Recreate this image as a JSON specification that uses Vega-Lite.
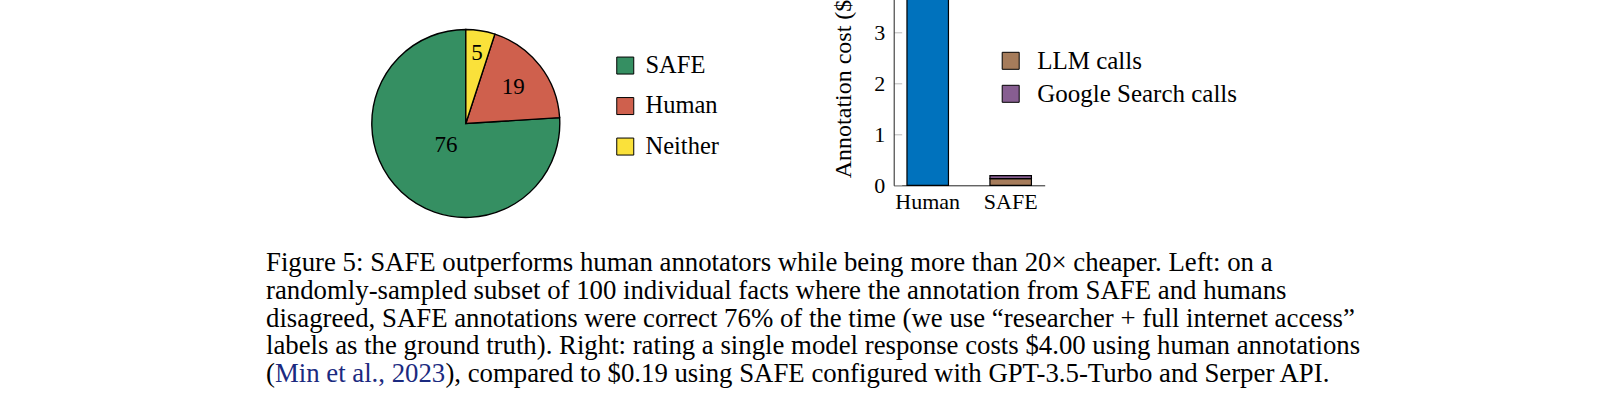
{
  "$schema": "https://vega.github.io/schema/vega-lite/v6.json",
  "description": "SAFE vs human annotators: pie of who was right, and annotation cost per response.",
  "background": "white",
  "padding": {"left": 260, "top": -19.7, "right": 10, "bottom": 10},
  "config": {
    "font": "Liberation Serif",
    "view": {"stroke": null},
    "axis": {"labelColor": "black", "titleColor": "black", "domainColor": "#222", "labelFont": "Liberation Serif", "titleFont": "Liberation Serif"},
    "legend": {"labelColor": "black", "labelFont": "Liberation Serif", "padding": 0, "labelLimit": 400}
  },
  "bounds": "flush",
  "spacing": 275.8,
  "vconcat": [
    {
      "bounds": "flush",
      "spacing": 221.7,
      "resolve": {"scale": {"color": "independent"}, "legend": {"color": "independent"}},
      "hconcat": [
        {
          "width": 411.6,
          "height": 204,
          "data": {
            "values": [
              {"label": "SAFE", "share": 76},
              {"label": "Human", "share": 19},
              {"label": "Neither", "share": 5}
            ]
          },
          "encoding": {
            "theta": {"field": "share", "type": "quantitative", "stack": true},
            "order": {"field": "share", "type": "quantitative", "sort": "ascending"}
          },
          "layer": [
            {
              "mark": {"type": "arc", "outerRadius": 94, "stroke": "black", "strokeWidth": 1.4, "yOffset": 40.2},
              "encoding": {
                "color": {
                  "field": "label",
                  "type": "nominal",
                  "scale": {"domain": ["SAFE", "Human", "Neither"], "range": ["#358F62", "#CF604D", "#FAE13A"]},
                  "legend": {
                    "title": null,
                    "orient": "none",
                    "legendX": 353,
                    "legendY": 72,
                    "symbolType": "square",
                    "symbolSize": 289,
                    "symbolStrokeColor": "black",
                    "symbolStrokeWidth": 1,
                    "symbolOpacity": 1,
                    "labelFontSize": 24.5,
                    "labelOffset": 8,
                    "rowPadding": 15.5
                  }
                }
              }
            },
            {
              "mark": {"type": "text", "radius": 71, "yOffset": 40.2, "fontSize": 23, "color": "black"},
              "encoding": {"text": {"condition": {"test": "datum.label === 'Neither'", "field": "share", "type": "quantitative"}, "value": ""}}
            },
            {
              "mark": {"type": "text", "radius": 60, "yOffset": 40.2, "fontSize": 23, "color": "black"},
              "encoding": {"text": {"condition": {"test": "datum.label === 'Human'", "field": "share", "type": "quantitative"}, "value": ""}}
            },
            {
              "mark": {"type": "text", "radius": 29, "yOffset": 40.2, "fontSize": 23, "color": "black"},
              "encoding": {"text": {"condition": {"test": "datum.label === 'SAFE'", "field": "share", "type": "quantitative"}, "value": ""}}
            }
          ]
        },
        {
          "width": 151,
          "height": 204,
          "data": {
            "values": [
              {"method": "Human", "part": "Human annotation", "cost": 4.0},
              {"method": "SAFE", "part": "LLM calls", "cost": 0.13},
              {"method": "SAFE", "part": "Google Search calls", "cost": 0.06}
            ]
          },
          "mark": {"type": "bar", "stroke": "black", "strokeWidth": 1.2},
          "encoding": {
            "x": {
              "field": "method",
              "type": "nominal",
              "sort": ["Human", "SAFE"],
              "scale": {"paddingInner": 0.5, "paddingOuter": 0.16},
              "axis": {"title": null, "labelAngle": 0, "ticks": false, "labelFontSize": 22, "labelPadding": 6}
            },
            "y": {
              "field": "cost",
              "type": "quantitative",
              "stack": "zero",
              "scale": {"domain": [0, 4], "nice": false},
              "axis": {
                "title": "Annotation cost ($)",
                "values": [0, 1, 2, 3],
                "grid": false,
                "tickSize": -8,
                "tickColor": "#bbbbbb",
                "labelPadding": 17,
                "labelFontSize": 22,
                "titleFontSize": 24,
                "titleFontWeight": "normal",
                "titleAngle": -90,
                "titleX": -50,
                "titleY": 196.4,
                "titleBaseline": "middle",
                "titleAlign": "left"
              }
            },
            "color": {
              "field": "part",
              "type": "nominal",
              "scale": {"domain": ["Human annotation", "LLM calls", "Google Search calls"], "range": ["#0072BD", "#A67C5B", "#875E91"]},
              "legend": {
                "values": ["LLM calls", "Google Search calls"],
                "title": null,
                "orient": "none",
                "legendX": 104.5,
                "legendY": 67,
                "symbolType": "square",
                "symbolSize": 289,
                "symbolStrokeColor": "black",
                "symbolStrokeWidth": 1,
                "symbolOpacity": 1,
                "labelFontSize": 25,
                "labelOffset": 14,
                "rowPadding": 7
              }
            },
            "order": {"field": "part", "type": "nominal", "sort": "descending"}
          }
        }
      ]
    },
    {
      "width": 1098,
      "height": 139,
      "data": {
        "values": [
          {"line": 1, "part": "body", "text": "Figure 5: SAFE outperforms human annotators while being more than 20× cheaper. Left: on a"},
          {"line": 2, "part": "body", "text": "randomly-sampled subset of 100 individual facts where the annotation from SAFE and humans"},
          {"line": 3, "part": "body", "text": "disagreed, SAFE annotations were correct 76% of the time (we use “researcher + full internet access”"},
          {"line": 4, "part": "body", "text": "labels as the ground truth). Right: rating a single model response costs $4.00 using human annotations"},
          {"line": 5, "part": "pre", "text": "("},
          {"line": 5, "part": "cite", "text": "Min et al., 2023"},
          {"line": 5, "part": "post", "text": "), compared to $0.19 using SAFE configured with GPT-3.5-Turbo and Serper API."}
        ]
      },
      "encoding": {
        "x": {"value": 6},
        "y": {"field": "line", "type": "ordinal", "axis": null, "scale": {"domain": [1, 2, 3, 4, 5]}},
        "text": {"field": "text", "type": "nominal"}
      },
      "layer": [
        {
          "transform": [{"filter": "datum.part === 'body' || datum.part === 'pre'"}],
          "mark": {"type": "text", "align": "left", "baseline": "alphabetic", "fontSize": 26.8, "color": "black"}
        },
        {
          "transform": [{"filter": "datum.part === 'cite'"}],
          "mark": {"type": "text", "align": "left", "baseline": "alphabetic", "fontSize": 26.8, "color": "#1b2a80", "dx": 8.9}
        },
        {
          "transform": [{"filter": "datum.part === 'post'"}],
          "mark": {"type": "text", "align": "left", "baseline": "alphabetic", "fontSize": 26.8, "color": "black", "dx": 179.4}
        }
      ]
    }
  ]
}
